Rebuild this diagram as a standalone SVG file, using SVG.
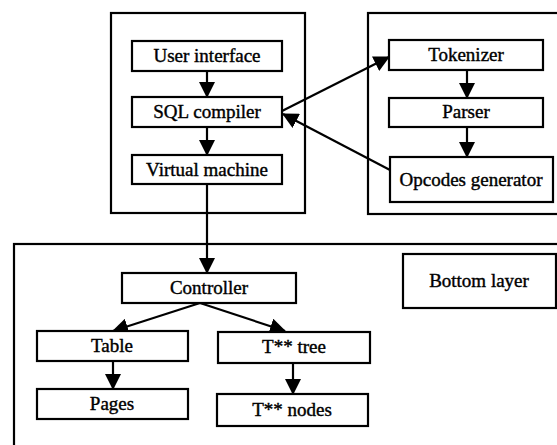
<svg xmlns="http://www.w3.org/2000/svg" width="557" height="445" viewBox="0 0 557 445">
  <style>
    .frame { fill: none; stroke: #000; stroke-width: 2.2; }
    .box { fill: #fff; stroke: #000; stroke-width: 2.2; }
    .lbl { fill: #000; stroke: #000; stroke-width: 0.4; }
    .edge { fill: none; stroke: #000; stroke-width: 2.2; }
  </style>
  <defs>
    <marker id="head" markerUnits="userSpaceOnUse" markerWidth="16" markerHeight="16" viewBox="0 0 16 16" refX="15" refY="8" orient="auto">
      <path d="M0,0 L16,8 L0,16 Z" fill="#000"/>
    </marker>
  </defs>

  <rect width="557" height="445" fill="#fff"/>

  <!-- layer frames -->
  <g id="top-layer"><rect class="frame" x="111" y="13" width="194" height="200"/></g>
  <g id="compiler-layer"><rect class="frame" x="368" y="13" width="210" height="201"/></g>
  <g id="storage-layer"><rect class="frame" x="14" y="244" width="570" height="230"/></g>

  <!-- connectors -->
  <g id="connectors">
    <line class="edge" x1="207" y1="71" x2="207" y2="97" marker-end="url(#head)"/>
    <line class="edge" x1="207" y1="127" x2="207" y2="155" marker-end="url(#head)"/>
    <line class="edge" x1="207" y1="184" x2="207" y2="273" marker-end="url(#head)"/>
    <line class="edge" x1="282" y1="111" x2="389" y2="57" marker-end="url(#head)"/>
    <line class="edge" x1="390" y1="170" x2="283" y2="114" marker-end="url(#head)"/>
    <line class="edge" x1="467" y1="70" x2="467" y2="98" marker-end="url(#head)"/>
    <line class="edge" x1="467" y1="127" x2="467" y2="157" marker-end="url(#head)"/>
    <line class="edge" x1="200" y1="303" x2="113" y2="331" marker-end="url(#head)"/>
    <line class="edge" x1="200" y1="303" x2="285" y2="331" marker-end="url(#head)"/>
    <line class="edge" x1="113" y1="361" x2="113" y2="389" marker-end="url(#head)"/>
    <line class="edge" x1="293" y1="363" x2="293" y2="394" marker-end="url(#head)"/>
  </g>

  <!-- nodes -->
  <g id="user-interface"><rect class="box" x="132" y="41" width="150" height="30"/><text class="lbl" font-family="Liberation Serif" font-size="19" text-anchor="middle" x="207" y="62">User interface</text></g>
  <g id="sql-compiler"><rect class="box" x="132" y="97" width="150" height="30"/><text class="lbl" font-family="Liberation Serif" font-size="19" text-anchor="middle" x="207" y="118">SQL compiler</text></g>
  <g id="virtual-machine"><rect class="box" x="132" y="155" width="150" height="29"/><text class="lbl" font-family="Liberation Serif" font-size="19" text-anchor="middle" x="207" y="176">Virtual machine</text></g>
  <g id="tokenizer"><rect class="box" x="389" y="40" width="154" height="30"/><text class="lbl" font-family="Liberation Serif" font-size="19" text-anchor="middle" x="466" y="61">Tokenizer</text></g>
  <g id="parser"><rect class="box" x="389" y="98" width="154" height="29"/><text class="lbl" font-family="Liberation Serif" font-size="19" text-anchor="middle" x="466" y="118">Parser</text></g>
  <g id="opcodes-generator"><rect class="box" x="390" y="157" width="163" height="45"/><text class="lbl" font-family="Liberation Serif" font-size="19" text-anchor="middle" x="471" y="186">Opcodes generator</text></g>
  <g id="controller"><rect class="box" x="122" y="273" width="174" height="30"/><text class="lbl" font-family="Liberation Serif" font-size="19" text-anchor="middle" x="209" y="294">Controller</text></g>
  <g id="bottom-layer"><rect class="box" x="403" y="254" width="153" height="54"/><text class="lbl" font-family="Liberation Serif" font-size="19" text-anchor="middle" x="479" y="287">Bottom layer</text></g>
  <g id="table"><rect class="box" x="37" y="331" width="151" height="30"/><text class="lbl" font-family="Liberation Serif" font-size="19" text-anchor="middle" x="112" y="352">Table</text></g>
  <g id="tree"><rect class="box" x="218" y="332" width="152" height="31"/><text class="lbl" font-family="Liberation Serif" font-size="19" text-anchor="middle" x="294" y="353">T** tree</text></g>
  <g id="pages"><rect class="box" x="37" y="389" width="151" height="30"/><text class="lbl" font-family="Liberation Serif" font-size="19" text-anchor="middle" x="112" y="410">Pages</text></g>
  <g id="tree-nodes"><rect class="box" x="217" y="394" width="151" height="32"/><text class="lbl" font-family="Liberation Serif" font-size="19" text-anchor="middle" x="292" y="416">T** nodes</text></g>
</svg>
